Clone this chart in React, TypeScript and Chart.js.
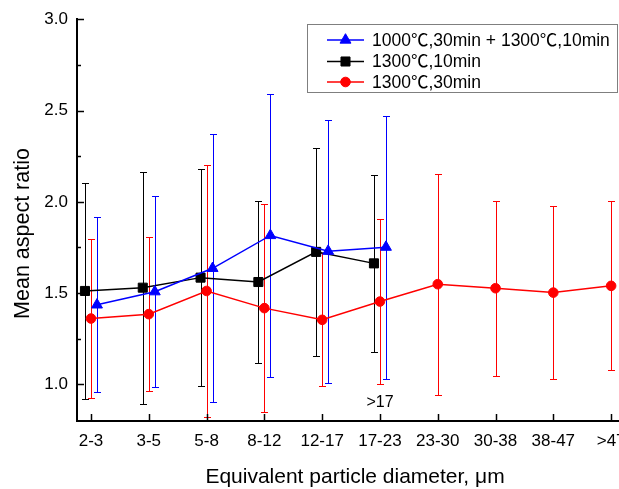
import React, { useEffect, useRef } from "react";
import { Chart, registerables } from "chart.js";

Chart.register(...registerables);

const categories = ["2-3", "3-5", "5-8", "8-12", "12-17", "17-23", "23-30", "30-38", "38-47", ">47"];
const seriesNames = ["1000℃,30min + 1300℃,10min", "1300℃,10min", "1300℃,30min"];

const blueMean = [1.436, 1.508, 1.636, 1.816, 1.730, 1.752];
const blueSd = [0.479, 0.522, 0.734, 0.775, 0.72, 0.72];

const blackMean = [1.512, 1.530, 1.585, 1.561, 1.726, 1.663];
const blackSd = [0.593, 0.636, 0.593, 0.444, 0.57, 0.486];

const redMean = [1.361, 1.385, 1.512, 1.418, 1.354, 1.454, 1.549, 1.527, 1.503, 1.540];
const redSd = [0.436, 0.42, 0.689, 0.568, 0.365, 0.452, 0.604, 0.48, 0.475, 0.462];

const yTicks = [1.0, 1.5, 2.0, 2.5, 3.0];
const yMinorTicks = [1.25, 1.75, 2.25, 2.75];
const xTitle = "Equivalent particle diameter, μm";
const yTitle = "Mean aspect ratio";
const annotationText = ">17";
const annotationX = 5;
const annotationY = 0.902;

const FONT = "'Liberation Sans', Arial, 'Noto Sans CJK SC', sans-serif";

const seriesColors = ["#0000ff", "#000000", "#ff0000"];
const seriesStyles = ["triangle", "rect", "circle"];
const seriesRadius = [6.3, 6.4, 4.8];
const seriesOffset = [0.104, -0.104, 0];
const seriesMeans = [blueMean, blackMean, redMean];
const seriesSds = [blueSd, blackSd, redSd];

function drawMarker(ctx: CanvasRenderingContext2D, style: string, r: number, x: number, y: number) {
  ctx.beginPath();
  if (style === "circle") {
    ctx.arc(x, y, r, 0, Math.PI * 2);
  } else if (style === "rect") {
    const h = r * Math.SQRT1_2;
    ctx.rect(x - h, y - h, 2 * h, 2 * h);
  } else {
    ctx.moveTo(x, y - r);
    ctx.lineTo(x + 0.866 * r, y + 0.5 * r);
    ctx.lineTo(x - 0.866 * r, y + 0.5 * r);
    ctx.closePath();
  }
  ctx.fill();
  ctx.stroke();
}

const errorBarPlugin = {
  id: "errorBars",
  beforeDatasetsDraw(chart: any) {
    const { ctx } = chart;
    const xs = chart.scales.x;
    const ys = chart.scales.y;
    ctx.save();
    ctx.lineWidth = 1;
    for (let s = seriesMeans.length - 1; s >= 0; s--) {
      ctx.strokeStyle = seriesColors[s];
      const means = seriesMeans[s];
      const sds = seriesSds[s];
      means.forEach((m, i) => {
        const x = Math.round(xs.getPixelForValue(i + seriesOffset[s])) + 0.5;
        const yt = Math.round(ys.getPixelForValue(m + sds[i])) + 0.5;
        const yb = Math.round(ys.getPixelForValue(m - sds[i])) + 0.5;
        ctx.beginPath();
        ctx.moveTo(x, yt);
        ctx.lineTo(x, yb);
        ctx.moveTo(x - 3.5, yt);
        ctx.lineTo(x + 3.5, yt);
        ctx.moveTo(x - 3.5, yb);
        ctx.lineTo(x + 3.5, yb);
        ctx.stroke();
      });
    }
    ctx.restore();
  },
};

const decorPlugin = {
  id: "decor",
  afterDraw(chart: any) {
    const { ctx } = chart;
    const xs = chart.scales.x;
    const ys = chart.scales.y;
    const ca = chart.chartArea;
    ctx.save();
    ctx.strokeStyle = "#000";
    ctx.lineWidth = 1.5;
    categories.forEach((_, i) => {
      const x = Math.round(xs.getPixelForValue(i)) + 0.5;
      ctx.beginPath();
      ctx.moveTo(x, ca.bottom);
      ctx.lineTo(x, ca.bottom - 7);
      ctx.stroke();
    });
    yTicks.forEach((v) => {
      const y = Math.round(ys.getPixelForValue(v)) + 0.5;
      ctx.beginPath();
      ctx.moveTo(ca.left, y);
      ctx.lineTo(ca.left + 7, y);
      ctx.stroke();
    });
    yMinorTicks.forEach((v) => {
      const y = Math.round(ys.getPixelForValue(v)) + 0.5;
      ctx.beginPath();
      ctx.moveTo(ca.left, y);
      ctx.lineTo(ca.left + 4, y);
      ctx.stroke();
    });

    ctx.fillStyle = "#000";
    ctx.font = `16px ${FONT}`;
    ctx.textAlign = "center";
    ctx.textBaseline = "middle";
    ctx.fillText(annotationText, xs.getPixelForValue(annotationX), ys.getPixelForValue(annotationY));

    // axis titles
    ctx.font = `21px ${FONT}`;
    ctx.fillText(xTitle, 355, 477);
    ctx.save();
    ctx.translate(23, 233.5);
    ctx.rotate(-Math.PI / 2);
    ctx.font = `21.5px ${FONT}`;
    ctx.fillText(yTitle, 0, 0);
    ctx.restore();

    // legend
    const bx = 307.5, by = 24.5, bw = 310, bh = 68;
    ctx.fillStyle = "#fff";
    ctx.fillRect(bx, by, bw, bh);
    ctx.strokeStyle = "#7f7f7f";
    ctx.lineWidth = 1;
    ctx.strokeRect(bx, by, bw, bh);
    const rows = [40, 61.5, 82];
    seriesNames.forEach((name, s) => {
      const y = rows[s];
      ctx.strokeStyle = seriesColors[s];
      ctx.lineWidth = 1.5;
      ctx.beginPath();
      ctx.moveTo(327, y);
      ctx.lineTo(364, y);
      ctx.stroke();
      ctx.fillStyle = seriesColors[s];
      ctx.lineWidth = 1;
      drawMarker(ctx, seriesStyles[s], seriesRadius[s], 345.5, y);
      ctx.fillStyle = "#000";
      ctx.font = `17.5px ${FONT}`;
      ctx.textAlign = "left";
      ctx.textBaseline = "middle";
      ctx.fillText(name, 372, y + 1);
    });
    ctx.restore();
  },
};

export default function App() {
  const ref = useRef<HTMLCanvasElement | null>(null);
  useEffect(() => {
    if (!ref.current) return;
    const datasets = seriesNames.map((name, s) => ({
      label: name,
      data: seriesMeans[s].map((m, i) => ({ x: i + seriesOffset[s], y: m })),
      borderColor: seriesColors[s],
      backgroundColor: seriesColors[s],
      borderWidth: 1.5,
      pointStyle: seriesStyles[s],
      pointRadius: seriesRadius[s],
      pointBorderWidth: 1,
      showLine: true,
      tension: 0,
      order: s,
    }));
    const chart = new Chart(ref.current, {
      type: "scatter",
      data: { datasets } as any,
      plugins: [errorBarPlugin, decorPlugin],
      options: {
        animation: false,
        responsive: false,
        devicePixelRatio: 1,
        layout: { padding: { top: 17, right: 15, bottom: 0, left: 0 } },
        plugins: { legend: { display: false }, tooltip: { enabled: false } },
        scales: {
          x: {
            type: "linear",
            min: -0.242,
            max: 9.24,
            afterFit: (scale: any) => {
              scale.height = 68;
            },
            afterBuildTicks: (scale: any) => {
              scale.ticks = categories.map((_, i) => ({ value: i }));
            },
            ticks: {
              autoSkip: false,
              maxRotation: 0,
              minRotation: 0,
              padding: 10,
              color: "#000",
              font: { family: FONT, size: 17 },
              callback: (v: any) => categories[Math.round(Number(v))] ?? "",
            },
            grid: { display: false, drawTicks: false },
            border: { display: true, color: "#000", width: 2 },
            title: { display: false },
          },
          y: {
            type: "linear",
            min: 0.8,
            max: 3.0,
            afterFit: (scale: any) => {
              scale.width = 77;
            },
            afterBuildTicks: (scale: any) => {
              scale.ticks = yTicks.map((v) => ({ value: v }));
            },
            ticks: {
              padding: 9,
              color: "#000",
              font: { family: FONT, size: 17 },
              callback: (v: any) => Number(v).toFixed(1),
            },
            grid: { display: false, drawTicks: false },
            border: { display: true, color: "#000", width: 2 },
            title: { display: false },
          },
        },
      } as any,
    });
    return () => chart.destroy();
  }, []);
  return (
    <div style={{ position: "fixed", left: 0, top: 0, width: 619, height: 489, overflow: "hidden", background: "#fff" }}>
      <canvas ref={ref} width={640} height={489} style={{ width: 640, height: 489, display: "block" }} />
    </div>
  );
}
